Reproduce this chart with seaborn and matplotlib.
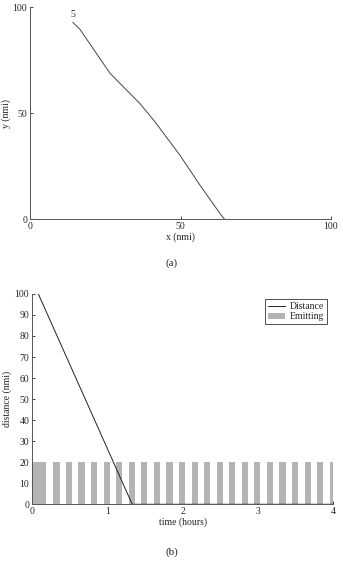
import matplotlib
matplotlib.use("Agg")
import matplotlib.pyplot as plt
import seaborn as sns
import pandas as pd

# ---- data: panel (a) trajectory ----
traj_x = [14.2, 16.6, 26.6, 36.5, 41.5, 49.8, 56.5, 63.1, 64.6]
traj_y = [92.9, 89.6, 68.8, 54.6, 46.0, 30.2, 16.0, 2.7, 0.0]
traj_label = "5"

# ---- data: panel (b) distance vs time ----
dist_t = [0.084, 1.33, 4.0]
dist_d = [100.0, 0.0, 0.0]

# emitting intervals (hours): start and width, height
emit_start = [0.0, 0.283, 0.450, 0.617, 0.783, 0.950, 1.117, 1.283, 1.450,
              1.617, 1.783, 1.950, 2.117, 2.283, 2.450, 2.617, 2.783, 2.950,
              3.117, 3.283, 3.450, 3.617, 3.783, 3.950]
emit_width = [0.186] + [0.082] * 23
emit_height = 20

sns.set_style("ticks")
plt.rcParams["font.family"] = ["Liberation Serif", "DejaVu Serif"]
plt.rcParams["font.size"] = 7
plt.rcParams["xtick.direction"] = "in"
plt.rcParams["ytick.direction"] = "in"
plt.rcParams["xtick.major.size"] = 2.5
plt.rcParams["ytick.major.size"] = 2.5
plt.rcParams["axes.linewidth"] = 0.7
plt.rcParams["axes.edgecolor"] = "#555555"

fig = plt.figure(figsize=(3.43, 5.62), dpi=100)

# ---- panel (a) ----
ax1 = fig.add_axes([0.0875, 0.610, 0.8775, 0.377])
df_a = pd.DataFrame({"x": traj_x, "y": traj_y})
sns.lineplot(data=df_a, x="x", y="y", ax=ax1, sort=False, color="#444444", lw=0.7)
ax1.text(traj_x[0], 96.5, traj_label, ha="center", va="center", fontsize=7)
ax1.set_xlim(0, 100)
ax1.set_ylim(0, 100)
ax1.set_xticks([0, 50, 100])
ax1.set_yticks([0, 50, 100])
ax1.set_xlabel("x (nmi)", labelpad=1)
ax1.set_ylabel("y (nmi)", labelpad=1)
ax1.tick_params(pad=2, width=0.6)
sns.despine(ax=ax1)

# ---- panel (b) ----
ax2 = fig.add_axes([0.0933, 0.1027, 0.8787, 0.3743])
ax2.bar(emit_start, [emit_height] * len(emit_start), width=emit_width,
        align="edge", color="#b4b4b4", edgecolor="none", label="Emitting")
df_b = pd.DataFrame({"t": dist_t, "d": dist_d})
sns.lineplot(data=df_b, x="t", y="d", ax=ax2, color="#222222", lw=0.7,
             label="Distance")
ax2.set_xlim(0, 4)
ax2.set_ylim(0, 100)
ax2.set_xticks([0, 1, 2, 3, 4])
ax2.set_yticks(list(range(0, 101, 10)))
ax2.set_xlabel("time (hours)", labelpad=1)
ax2.set_ylabel("distance (nmi)", labelpad=2)
ax2.tick_params(pad=2, width=0.6)
sns.despine(ax=ax2)
h, l = ax2.get_legend_handles_labels()
order = [l.index("Distance"), l.index("Emitting")]
leg = ax2.legend([h[i] for i in order], [l[i] for i in order],
                 loc="upper right", bbox_to_anchor=(0.985, 0.985),
                 fancybox=False, framealpha=1, edgecolor="#333333",
                 borderpad=0.3, handlelength=1.7, handletextpad=0.5,
                 labelspacing=0.15, borderaxespad=0.2)
leg.get_frame().set_linewidth(0.6)

fig.text(0.5, 1 - 263 / 562, "(a)", ha="center", va="center", fontsize=8)
fig.text(0.5, 1 - 552 / 562, "(b)", ha="center", va="center", fontsize=8)

fig.savefig("out.png", dpi=100)
